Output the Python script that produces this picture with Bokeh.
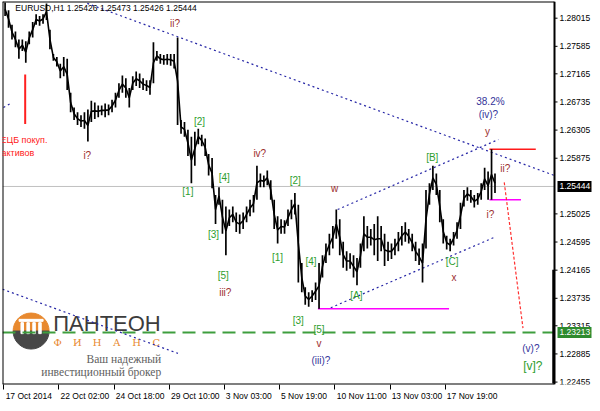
import numpy as np
from bokeh.plotting import figure
from bokeh.models import Range1d, FixedTicker
from bokeh.core.properties import value
from bokeh.embed import file_html
from bokeh.resources import INLINE

# ---------------- data ----------------
symbol = "EURUSD,H1"
last_ohlc = [1.25426, 1.25473, 1.25426, 1.25444]
bars_per_group = 4          # each stored high/low covers four H1 bars

high = [1.28255, 1.28136, 1.27914, 1.2781, 1.27691, 1.27691, 1.27661, 1.2781, 1.27958, 1.28077,
        1.28047, 1.28077, 1.2824, 1.27839, 1.27468, 1.27423, 1.27319, 1.27423, 1.27394, 1.26874,
        1.26651, 1.26577, 1.26532, 1.26577, 1.26621, 1.26755, 1.26725, 1.26681, 1.26681, 1.2671,
        1.26696, 1.2677, 1.26874, 1.27022, 1.27141, 1.27097, 1.26948, 1.27126, 1.27201, 1.27171,
        1.27097, 1.27067, 1.27067, 1.27646, 1.27513, 1.27468, 1.27453, 1.27468, 1.27468, 1.27468,
        1.27721, 1.26458, 1.26428, 1.26309, 1.26205, 1.2628, 1.26324, 1.26235, 1.26176, 1.25938,
        1.25879, 1.25314, 1.25433, 1.2524, 1.25136, 1.25091, 1.25136, 1.25047, 1.25017, 1.25047,
        1.25136, 1.2524, 1.25314, 1.2576, 1.25641, 1.25611, 1.25686, 1.25537, 1.2524, 1.24987,
        1.24943, 1.24928, 1.25091, 1.2524, 1.25344, 1.25166, 1.24274, 1.23903, 1.23829, 1.23859,
        1.23977, 1.24274, 1.24393, 1.24571, 1.2472, 1.24839, 1.25091, 1.24943, 1.24601, 1.24453,
        1.24423, 1.24393, 1.24349, 1.24571, 1.24987, 1.24839, 1.24794, 1.24869, 1.24987, 1.24839,
        1.2472, 1.24601, 1.24571, 1.24646, 1.2475, 1.24839, 1.24898, 1.24794, 1.2472, 1.24601,
        1.24497, 1.24571, 1.25388, 1.25492, 1.2576, 1.25641, 1.25388, 1.24943, 1.2469, 1.24646,
        1.2475, 1.24898, 1.25195, 1.25388, 1.25433, 1.25388, 1.25314, 1.25344, 1.25492, 1.2573,
        1.25671, 1.26012, 1.25641]

low = [1.28047, 1.27869, 1.27691, 1.27572, 1.27394, 1.27513, 1.27334, 1.27617, 1.27721, 1.27914,
       1.27899, 1.27929, 1.27988, 1.27542, 1.27364, 1.27275, 1.27097, 1.27126, 1.26918, 1.26577,
       1.26458, 1.26384, 1.26354, 1.26324, 1.26131, 1.26428, 1.26473, 1.26503, 1.26532, 1.26503,
       1.26532, 1.26577, 1.26651, 1.268, 1.26874, 1.268, 1.26651, 1.26918, 1.26978, 1.26948,
       1.26918, 1.26904, 1.26844, 1.27022, 1.27364, 1.27319, 1.27305, 1.27305, 1.2729, 1.27245,
       1.26384, 1.2625, 1.26205, 1.25908, 1.25492, 1.2576, 1.26087, 1.26057, 1.25908, 1.25611,
       1.25418, 1.24869, 1.25166, 1.2472, 1.24393, 1.24839, 1.24898, 1.2475, 1.2472, 1.24794,
       1.24898, 1.24987, 1.25047, 1.2524, 1.25433, 1.25433, 1.25463, 1.2524, 1.24794, 1.24571,
       1.2472, 1.2472, 1.24839, 1.24943, 1.25017, 1.23977, 1.23829, 1.23636, 1.23606, 1.2368,
       1.2371, 1.23576, 1.24052, 1.24274, 1.24393, 1.24497, 1.24646, 1.24393, 1.242, 1.24156,
       1.24185, 1.24052, 1.23933, 1.242, 1.24453, 1.24497, 1.24542, 1.24393, 1.24304, 1.24453,
       1.2423, 1.24304, 1.24334, 1.24393, 1.24453, 1.24542, 1.24601, 1.24571, 1.24453, 1.24304,
       1.24245, 1.23977, 1.24497, 1.25166, 1.25388, 1.25314, 1.24898, 1.24571, 1.24482, 1.24453,
       1.24542, 1.24646, 1.24794, 1.25136, 1.25225, 1.25195, 1.25121, 1.25166, 1.2524, 1.25388,
       1.2524, 1.2524, 1.25344]

price_ticks = [1.28015, 1.27585, 1.27165, 1.26735, 1.26305, 1.25875, 1.25025,
               1.24595, 1.24165, 1.23735, 1.23315, 1.22885, 1.22455]
time_tick_bars = [0, 64, 128, 192, 256, 320, 384, 448, 512]
time_labels = ["17 Oct 2014", "22 Oct 02:00", "24 Oct 18:00", "29 Oct 10:00", "3 Nov 03:00",
               "5 Nov 19:00", "10 Nov 11:00", "13 Nov 03:00", "17 Nov 19:00"]

last_price = 1.25444
support_level = 1.23213

# wave labels: text, bar index, price
red_labels = [("ii?", 198.5, 1.27929), ("i?", 96.8, 1.2592), ("iii?", 256.8, 1.23829),
              ("iv?", 296.8, 1.2595), ("v", 365.4, 1.23042), ("w", 383.7, 1.25418),
              ("x", 522.0, 1.24052), ("y", 560.8, 1.2628), ("ii?", 581.4, 1.25715),
              ("i?", 564.2, 1.25017)]
green_labels = [("[1]", 213.4, 1.25374), ("[2]", 227.0, 1.26443), ("[3]", 243.1, 1.24705),
                ("[4]", 255.7, 1.25582), ("[5]", 254.5, 1.24081), ("[1]", 317.4, 1.24364),
                ("[2]", 337.9, 1.25537), ("[4]", 356.2, 1.24304), ("[3]", 341.4, 1.23398),
                ("[5]", 365.4, 1.23264), ("[A]", 408.8, 1.23784), ("[B]", 496.8, 1.25894),
                ("[C]", 519.7, 1.2429)]
navy_labels = [("(iii)?", 367.7, 1.2279), ("38.2%", 564.2, 1.2674), ("(iv)?", 561.9, 1.26547),
               ("(v)?", 611.1, 1.22967)]

# ---------------- geometry helpers (reference pixel -> data) ----------------
def bx(X):
    return (X - 3.3) / 0.875

def py(Y):
    return 1.28285 - Y * 0.00014854

X0, X1 = -1.5, 638.5            # chart area in bar units
Y0, Y1 = 1.22418, 1.2827
FIG_W, FIG_H = 592, 403
FRAME_H = FIG_H - 1 - 16
PX_PER_BAR = 552.0 / (X1 - X0)
XR = X0 + (FIG_W - 2) / PX_PER_BAR   # frame extends under the price scale

def dxp(px):
    return px / PX_PER_BAR

n = len(high)
xg = np.arange(n) * bars_per_group + 1.5
mid = [(h + l) / 2 for h, l in zip(high, low)]

p = figure(width=FIG_W, height=FIG_H, x_range=Range1d(X0, XR), y_range=Range1d(Y0, Y1),
           output_backend="svg", toolbar_location=None, y_axis_location=None,
           min_border_left=2, min_border_right=0, min_border_top=1, min_border_bottom=16)
p.xgrid.visible = False
p.ygrid.visible = False
p.outline_line_color = None
p.background_fill_color = "white"
p.border_fill_color = "white"

FONT = "Liberation Sans"

# bottom time axis: labels start just right of their tick
cw = {" ": 0.278, ":": 0.278, "O": 0.778, "c": 0.5, "t": 0.278, "N": 0.722, "o": 0.556, "v": 0.5}
centers = []
overrides = {}
for b, lab in zip(time_tick_bars, time_labels):
    w = sum(cw.get(ch, 0.556) for ch in lab) * 8.5
    c = int(round(b + dxp(1.5 + w / 2)))
    centers.append(c)
    overrides[c] = lab
p.xaxis.ticker = FixedTicker(ticks=centers, minor_ticks=time_tick_bars)
p.xaxis.major_label_overrides = overrides
p.xaxis.major_tick_line_color = None
p.xaxis.major_tick_out = 1
p.xaxis.major_tick_in = 0
p.xaxis.minor_tick_line_color = "black"
p.xaxis.minor_tick_out = 5
p.xaxis.minor_tick_in = 0
p.xaxis.axis_line_color = None
p.xaxis.major_label_standoff = 1
p.xaxis.major_label_text_font = FONT
p.xaxis.major_label_text_font_size = "8.5px"
p.xaxis.major_label_text_color = "black"

# ---------------- logo (lower left) ----------------
ORANGE = "#E8892F"
p.wedge(x=[bx(31)], y=[py(340)], radius=18, radius_units="screen", start_angle=0, end_angle=np.pi,
        color=ORANGE)
p.wedge(x=[bx(31)], y=[py(340)], radius=18, radius_units="screen", start_angle=np.pi,
        end_angle=2 * np.pi, color="#474747")
p.rect(x=[bx(X) for X in (22, 28, 34, 40)], y=py(337), width=2.5, height=11,
       width_units="screen", height_units="screen", color="white")
p.rect(x=[bx(31)], y=py(329), width=24, height=2, width_units="screen", height_units="screen",
       color="white")
p.text(x=[bx(108)], y=[py(332)], text=["ПАНТЕОН"], text_font=value(FONT), text_font_size="22px",
       text_color="#3C3C3C", text_align="center", text_baseline="middle")
p.text(x=[bx(58 + 20 * k) for k in range(6)], y=py(352), text=list("ФИНАНС"),
       text_font=value("DejaVu Serif"), text_font_size="10px", text_color=ORANGE,
       text_align="center", text_baseline="middle")
p.text(x=[bx(163), bx(163)], y=[py(369), py(382)], text=["Ваш надежный", "инвестиционный брокер"],
       text_font=value("Liberation Serif"), text_font_size="11.5px", text_color="#5E5E5E",
       text_align="right", text_baseline="middle")

# ---------------- reference lines ----------------
p.segment(x0=[X0], y0=[last_price], x1=[X1], y1=[last_price], line_color="#C0C0C0", line_width=1)
p.segment(x0=[X0], y0=[support_level], x1=[X1], y1=[support_level], line_color="#3E9E3E",
          line_width=2, line_dash="13 7")

BLUE = "#2626A6"
p.segment(x0=[bx(88), bx(2), bx(3), bx(342), bx(335)],
          y0=[py(3), py(297), py(110), high[96], low[91] + 0.00015],
          x1=[X1, bx(180), bx(10), bx(505), bx(500)],
          y1=[py(180), py(363), py(106), py(143), py(244)],
          line_color=BLUE, line_width=1.2, line_dash="2 3")

# red & magenta level lines
p.segment(x0=[bx(496)], y0=[high[141]], x1=[bx(543)], y1=[high[141]], line_color="#FF1A1A", line_width=1.6)
p.segment(x0=[bx(496)], y0=[low[141]], x1=[bx(528)], y1=[low[141]], line_color="#FF00FF", line_width=1.6)
p.segment(x0=[bx(322)], y0=[low[91]], x1=[bx(455)], y1=[low[91]], line_color="#FF00FF", line_width=1.6)
p.segment(x0=[bx(511)], y0=[py(187)], x1=[bx(530)], y1=[py(337)], line_color="#FF3030",
          line_width=1.2, line_dash="3 2")
p.segment(x0=[bx(25)], y0=[py(76)], x1=[bx(25)], y1=[py(127)], line_color="#FF2020", line_width=2)

# ---------------- price bars ----------------
p.line(x=xg, y=mid, line_color="black", line_width=1.6)
p.segment(x0=xg, y0=low, x1=xg, y1=high, line_color="black", line_width=1.7)

# ---------------- chart frame ----------------
p.segment(x0=[X0, X0, X0, X1], y0=[Y0, Y1, Y0, Y0], x1=[X1, X1, X0, X1], y1=[Y0, Y1, Y1, Y1],
          line_color="black", line_width=2)
p.segment(x0=[X1 - dxp(1)], y0=[py(277)], x1=[X1 - dxp(1)], y1=[py(394)], line_color="black",
          line_width=2.5)

# ---------------- price scale (right of the chart area) ----------------
p.segment(x0=[X1] * len(price_ticks), y0=price_ticks, x1=[X1 + dxp(3)] * len(price_ticks),
          y1=price_ticks, line_color="black", line_width=1)
p.text(x=[X1 + dxp(5)] * len(price_ticks), y=price_ticks, text=["%.5f" % t for t in price_ticks],
       text_font=value(FONT), text_font_size="8.5px", text_color="black",
       text_align="left", text_baseline="middle")
box_prices = [last_price, support_level]
p.rect(x=[X1 + dxp(20)] * 2, y=box_prices, width=34, height=11, width_units="screen",
       height_units="screen", fill_color=["black", "#2E8B2E"], line_color=None)
p.text(x=[X1 + dxp(5)] * 2, y=box_prices, text=["%.5f" % v for v in box_prices],
       text_font=value(FONT), text_font_size="8.5px", text_color="white",
       text_align="left", text_baseline="middle")

# ---------------- texts ----------------
def put(labels, color, size):
    p.text(x=[l[1] for l in labels], y=[l[2] for l in labels], text=[l[0] for l in labels],
           text_font=value(FONT), text_font_size=size, text_color=color,
           text_align="center", text_baseline="middle")

put(red_labels, "#9B2D2D", "10px")
put(green_labels, "#2E9E2E", "10px")
put(navy_labels, "#33339A", "10px")
p.text(x=[613.4], y=[1.227], text=["[v]?"], text_font=value(FONT), text_font_size="12px",
       text_color="#2E9E2E", text_align="center", text_baseline="middle")

p.text(x=[bx(0), bx(1)], y=[py(143), py(157)], text=["ЕЦБ покуп.", "активов"],
       text_font=value(FONT), text_font_size="9px", text_color="#FF2020",
       text_align="left", text_baseline="middle")

header = symbol + "  " + " ".join("%.5f" % v for v in last_ohlc)
p.text(x=[bx(15)], y=[py(8)], text=[header], text_font=value(FONT), text_font_size="8.5px",
       text_color="black", text_align="left", text_baseline="middle")

open("out.html", "w").write(file_html(p, INLINE))
